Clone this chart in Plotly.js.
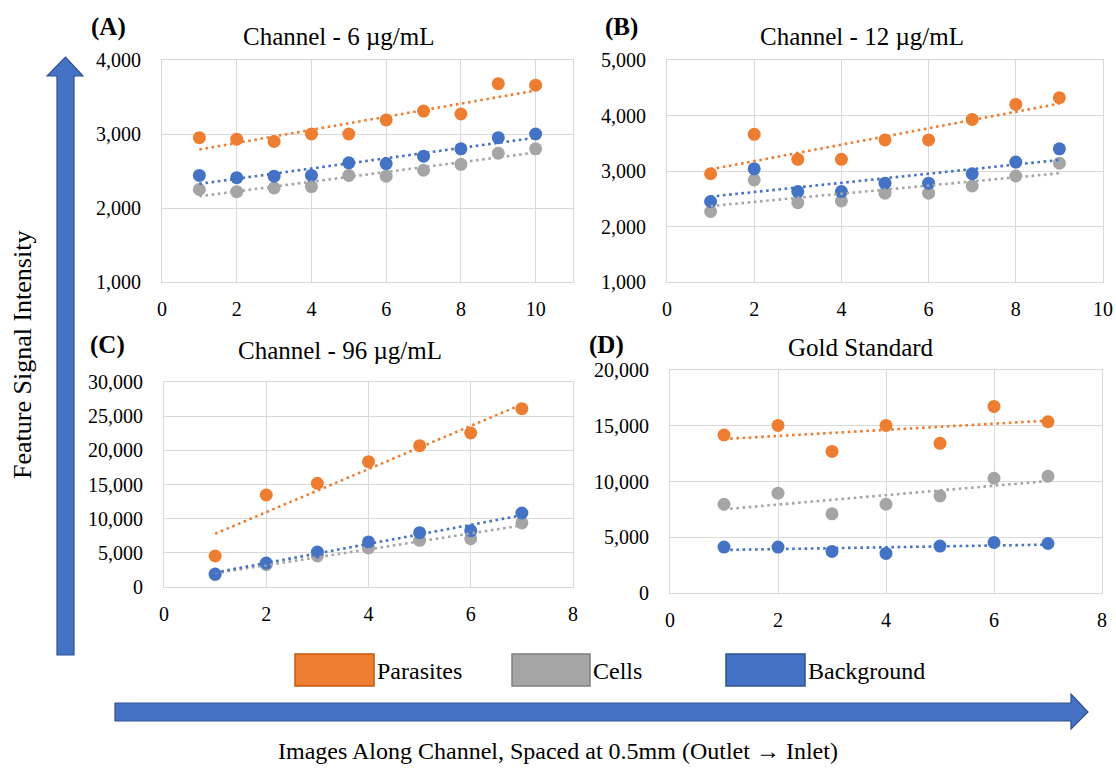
<!DOCTYPE html>
<html><head><meta charset="utf-8">
<script src="https://cdn.plot.ly/plotly-3.0.1.min.js"></script>
<style>html,body{margin:0;padding:0;background:#fff}#chart{width:1116px;height:769px}</style>
</head><body><div id="chart"></div>
<script>
const seriesNames = ['Parasites', 'Cells', 'Background'];
const seriesColors = ['#ED7D31', '#A5A5A5', '#4472C4'];
const seriesBorders = ['#C55A11', '#7F7F7F', '#2F528F'];
const panelTitles = ['Channel - 6 µg/mL', 'Channel - 12 µg/mL', 'Channel - 96 µg/mL', 'Gold Standard'];
const panelLabels = ['(A)', '(B)', '(C)', '(D)'];
const yAxisLabel = 'Feature Signal Intensity';
const xAxisLabel = 'Images Along Channel, Spaced at 0.5mm (Outlet → Inlet)';

const xA = [1, 2, 3, 4, 5, 6, 7, 8, 9, 10];
const parasitesA = [2950, 2930, 2900, 3000, 3000, 3190, 3310, 3270, 3680, 3660];
const cellsA = [2250, 2220, 2270, 2290, 2440, 2430, 2510, 2590, 2740, 2800];
const backgroundA = [2440, 2410, 2430, 2440, 2610, 2600, 2700, 2800, 2950, 3000];

const xB = [1, 2, 3, 4, 5, 6, 7, 8, 9];
const parasitesB = [2950, 3660, 3210, 3210, 3560, 3560, 3930, 4200, 4320];
const cellsB = [2270, 2840, 2430, 2460, 2600, 2600, 2730, 2910, 3140];
const backgroundB = [2450, 3040, 2630, 2630, 2780, 2780, 2950, 3160, 3400];

const xC = [1, 2, 3, 4, 5, 6, 7];
const parasitesC = [4540, 13460, 15170, 18340, 20680, 22540, 26100];
const cellsC = [1800, 3270, 4540, 5710, 6830, 7070, 9370];
const backgroundC = [1900, 3510, 5120, 6590, 7950, 8240, 10830];

const xD = [1, 2, 3, 4, 5, 6, 7];
const parasitesD = [14170, 15030, 12700, 15030, 13420, 16730, 15360];
const cellsD = [7960, 8950, 7100, 7960, 8710, 10290, 10470];
const backgroundD = [4120, 4120, 3730, 3550, 4210, 4530, 4440];

const W = 1116, H = 769;
const px = x => x / W;
const py = y => 1 - y / H;
const FONT = 'Liberation Serif';

const panels = [
  {x: xA, ys: [parasitesA, cellsA, backgroundA], box: [162, 573, 60, 282], xr: [0, 11], yr: [1000, 4000], dy: 1000, dx: 2,
   title: [338, 37], label: [108, 27]},
  {x: xB, ys: [parasitesB, cellsB, backgroundB], box: [667, 1103, 60, 282], xr: [0, 10], yr: [1000, 5000], dy: 1000, dx: 2,
   title: [862, 37], label: [621, 27]},
  {x: xC, ys: [parasitesC, cellsC, backgroundC], box: [164, 573, 382, 587], xr: [0, 8], yr: [0, 30000], dy: 5000, dx: 2,
   title: [340, 350], label: [107, 345]},
  {x: xD, ys: [parasitesD, cellsD, backgroundD], box: [670, 1102, 370, 593], xr: [0, 8], yr: [0, 20000], dy: 5000, dx: 2,
   title: [861, 347], label: [606, 345]}
];

function linfit(x, y) {
  const n = x.length;
  const mx = x.reduce((a, b) => a + b, 0) / n;
  const my = y.reduce((a, b) => a + b, 0) / n;
  let sxy = 0, sxx = 0;
  for (let i = 0; i < n; i++) { sxy += (x[i] - mx) * (y[i] - my); sxx += (x[i] - mx) ** 2; }
  const b = sxy / sxx, a = my - b * mx;
  return [x[0], x[n - 1]].map(v => a + b * v);
}

const traces = [];
const layout = {
  width: W, height: H,
  margin: {l: 0, r: 0, t: 0, b: 0},
  paper_bgcolor: '#fff', plot_bgcolor: '#fff',
  showlegend: false,
  font: {family: FONT, color: '#000', size: 20},
  annotations: [], shapes: []
};

panels.forEach((p, i) => {
  const k = i === 0 ? '' : String(i + 1);
  const xa = 'x' + k, ya = 'y' + k;
  p.ys.forEach((ys, s) => {
    traces.push({type: 'scatter', mode: 'markers', x: p.x, y: ys, xaxis: xa, yaxis: ya,
      name: seriesNames[s], marker: {color: seriesColors[s], size: 13}});
  });
  p.ys.forEach((ys, s) => {
    traces.push({type: 'scatter', mode: 'lines', x: [p.x[0], p.x[p.x.length - 1]], y: linfit(p.x, ys),
      xaxis: xa, yaxis: ya, line: {color: seriesColors[s], width: 2.6, dash: '2.6px,3.6px'}, hoverinfo: 'skip'});
  });
  const [l, r, t, b] = p.box;
  layout['xaxis' + k] = {domain: [px(l), px(r)], anchor: ya, range: p.xr, dtick: p.dx, tick0: 0,
    showgrid: true, gridcolor: '#D9D9D9', gridwidth: 1, zeroline: false,
    showline: true, linecolor: '#D9D9D9', linewidth: 1, mirror: true,
    ticks: '', ticklabelstandoff: 9, tickfont: {family: FONT, size: 20, color: '#000'}, fixedrange: true};
  layout['yaxis' + k] = {domain: [py(b), py(t)], anchor: xa, range: p.yr, dtick: p.dy, tick0: 0,
    tickformat: ',d', showgrid: true, gridcolor: '#D9D9D9', gridwidth: 1, zeroline: false,
    showline: true, linecolor: '#D9D9D9', linewidth: 1, mirror: true,
    ticks: '', ticklabelstandoff: 16, tickfont: {family: FONT, size: 20, color: '#000'}, fixedrange: true};
  layout.annotations.push({text: panelTitles[i], xref: 'paper', yref: 'paper', x: px(p.title[0]), y: py(p.title[1]),
    xanchor: 'center', yanchor: 'middle', showarrow: false, font: {family: FONT, size: 25, color: '#000'}});
  layout.annotations.push({text: '<b>' + panelLabels[i] + '</b>', xref: 'paper', yref: 'paper', x: px(p.label[0]), y: py(p.label[1]),
    xanchor: 'center', yanchor: 'middle', showarrow: false, font: {family: FONT, size: 25, color: '#000'}});
});

// legend (drawn as shapes + text)
const legendBoxes = [[295, 374], [512, 590], [726, 805]];
legendBoxes.forEach((bx, s) => {
  layout.shapes.push({type: 'rect', xref: 'paper', yref: 'paper', x0: px(bx[0]), x1: px(bx[1]), y0: py(686), y1: py(654),
    fillcolor: seriesColors[s], line: {color: seriesBorders[s], width: 1.5}});
  layout.annotations.push({text: seriesNames[s], xref: 'paper', yref: 'paper', x: px(bx[1] + 1), y: py(671),
    xanchor: 'left', yanchor: 'middle', showarrow: false, font: {family: FONT, size: 24, color: '#000'}});
});

// arrows
function pathPx(pts) {
  return 'M ' + pts.map(p => px(p[0]) + ',' + py(p[1])).join(' L ') + ' Z';
}
layout.shapes.push({type: 'path', xref: 'paper', yref: 'paper',
  path: pathPx([[57, 655], [74, 655], [74, 76], [83, 76], [65.5, 57], [47, 76], [57, 76]]),
  fillcolor: '#4472C4', line: {color: '#2F528F', width: 1.2}});
layout.shapes.push({type: 'path', xref: 'paper', yref: 'paper',
  path: pathPx([[115, 703], [1071, 703], [1071, 694], [1088, 712], [1071, 729], [1071, 721], [115, 721]]),
  fillcolor: '#4472C4', line: {color: '#2F528F', width: 1.2}});

layout.annotations.push({text: yAxisLabel, xref: 'paper', yref: 'paper', x: px(22), y: py(355), textangle: -90,
  xanchor: 'center', yanchor: 'middle', showarrow: false, font: {family: FONT, size: 26, color: '#000'}});
layout.annotations.push({text: xAxisLabel, xref: 'paper', yref: 'paper', x: px(558), y: py(751),
  xanchor: 'center', yanchor: 'middle', showarrow: false, font: {family: FONT, size: 24, color: '#000'}});

Plotly.newPlot('chart', traces, layout, {staticPlot: true, displayModeBar: false});
</script>
</body></html>
